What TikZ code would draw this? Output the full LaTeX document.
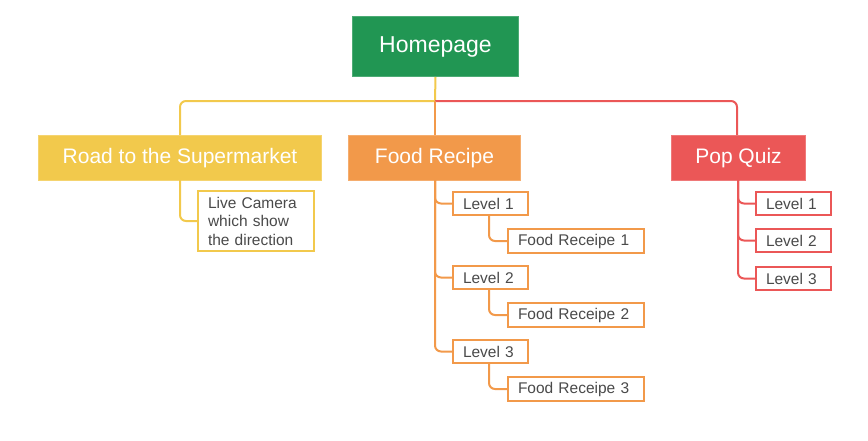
\documentclass[tikz,border=0pt]{standalone}
\usepackage{fontspec}
\setmainfont{Liberation Sans}
\definecolor{cgreen}{HTML}{219653}
\definecolor{cyel}{HTML}{F2C94C}
\definecolor{corg}{HTML}{F2994A}
\definecolor{cred}{HTML}{EB5757}
\definecolor{ctxt}{HTML}{4A4A4A}
\begin{document}
\begin{tikzpicture}[x=1pt,y=-1pt,
  topbox/.style={fill=#1,draw=#1!80!white,line width=1pt,text=white,inner sep=0pt,anchor=north west},
  subbox/.style={draw=#1,fill=white,line width=2pt,text=ctxt,inner sep=0pt,anchor=north west,font=\fontsize{15.5}{18.5}\selectfont},
  link/.style={draw=#1,line width=2pt,rounded corners=6pt}]
\useasboundingbox (0,0) rectangle (868,440);
% main nodes
\node[topbox=cgreen,minimum width=166pt,minimum height=60pt,font=\fontsize{23}{27}\selectfont] (home) at (352,16) {Homepage};
\node[topbox=cyel,minimum width=283pt,minimum height=45pt,font=\fontsize{21}{25}\selectfont] (road) at (38,135) {Road to the Supermarket};
\node[topbox=corg,minimum width=172pt,minimum height=45pt,font=\fontsize{21}{25}\selectfont] (food) at (348,135) {Food Recipe};
\node[topbox=cred,minimum width=134pt,minimum height=45pt,font=\fontsize{21}{25}\selectfont] (pop) at (671,135) {Pop Quiz};
% sub nodes
\node[subbox=cyel,minimum width=116pt,minimum height=60pt,align=left,text width=96pt] (cam) at (197,190) {Live Camera\\which show\\the direction};
\node[subbox=corg,minimum width=75pt,minimum height=23pt,align=left,text width=55pt] (fl1) at (452,191) {Level 1};
\node[subbox=corg,minimum width=136pt,minimum height=24pt,align=left,text width=116pt] (fr1) at (507,228) {Food Receipe 1};
\node[subbox=corg,minimum width=75pt,minimum height=23pt,align=left,text width=55pt] (fl2) at (452,265) {Level 2};
\node[subbox=corg,minimum width=136pt,minimum height=24pt,align=left,text width=116pt] (fr2) at (507,302) {Food Receipe 2};
\node[subbox=corg,minimum width=75pt,minimum height=23pt,align=left,text width=55pt] (fl3) at (452,339) {Level 3};
\node[subbox=corg,minimum width=136pt,minimum height=24pt,align=left,text width=116pt] (fr3) at (507,376) {Food Receipe 3};
\node[subbox=cred,minimum width=75pt,minimum height=23pt,align=left,text width=55pt] (pl1) at (755,191) {Level 1};
\node[subbox=cred,minimum width=75pt,minimum height=23pt,align=left,text width=55pt] (pl2) at (755,228) {Level 2};
\node[subbox=cred,minimum width=75pt,minimum height=23pt,align=left,text width=55pt] (pl3) at (755,266) {Level 3};
% coordinates
\coordinate (bus) at (435,101);
% connectors level 1
\draw[link=cyel] (home.south) -- (bus);
\draw[link=cyel] (bus) -- (180,101) -- (180,135);
\draw[link=cred] (bus) -- (737,101) -- (737,135);
\draw[link=corg] (bus) -- (435,135);
% road
\draw[link=cyel] (180,180) |- (cam.west);
% food
\draw[link=corg] (435,180) |- (fl1.west);
\draw[link=corg] (435,180) |- (fl2.west);
\draw[link=corg] (435,180) |- (fl3.west);
\draw[link=corg] (489,214) |- (fr1.west);
\draw[link=corg] (489,288) |- (fr2.west);
\draw[link=corg] (489,362) |- (fr3.west);
% pop
\draw[link=cred] (738,180) |- (pl1.west);
\draw[link=cred] (738,180) |- (pl2.west);
\draw[link=cred] (738,180) |- (pl3.west);
\end{tikzpicture}
\end{document}
